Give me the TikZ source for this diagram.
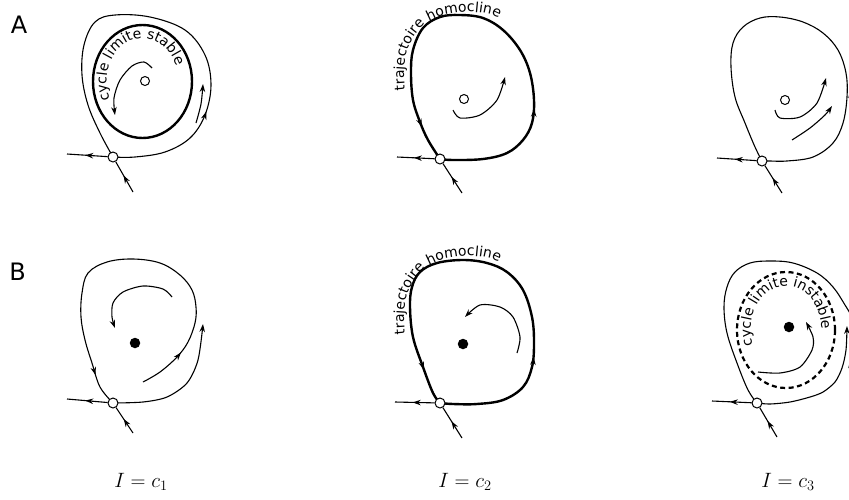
\documentclass[tikz,border=0pt]{standalone}
\usepackage{fontspec}
\newfontfamily\dejavu{DejaVu Sans}
\usetikzlibrary{arrows.meta,decorations.markings,decorations.text}
\newcommand\curvfont{\dejavu\fontsize{14}{14}\selectfont}
\begin{document}
\begin{tikzpicture}[x=1pt,y=-1pt,
  flow/.style={line width=1.1pt},
  homo/.style={line width=2.4pt},
  endtip/.style={-{Stealth[length=8pt,width=5.5pt]}},
  arrowat/.style={postaction={decorate,decoration={markings,mark=at position #1 with {\arrow{Stealth[length=8pt,width=5.5pt]}}}}},
  saddle/.style={circle,draw,fill=white,line width=1pt,inner sep=0pt,minimum size=10pt},
  focus/.style={circle,draw,fill=white,line width=1pt,inner sep=0pt,minimum size=9pt},
  dotnode/.style={circle,fill=black,inner sep=0pt,minimum size=10.5pt},
  panel/.style={font=\dejavu\fontsize{24}{24}\selectfont,anchor=base},
  cval/.style={font=\huge,anchor=base},
  curvtext/.style={decorate,decoration={text along path,text={|\curvfont|#1},text align=left}}
]
\useasboundingbox (0,0) rectangle (849,499);

% ---------- coordinates of saddles ----------
\coordinate (pA1) at (113,157);
\coordinate (pA2) at (440,159);
\coordinate (pA3) at (762,161);
\coordinate (pB1) at (113,403);
\coordinate (pB2) at (440,403);
\coordinate (pB3) at (757,403);

% ================= A1 =================
\draw[flow,arrowat=0.255] plot[smooth,tension=0.6] coordinates {(pA1) (135,157) (165,152) (190,138) (205,115) (211,85) (205,55) (185,30) (150,17) (115,15) (95,22) (84,45) (82,75) (88,105) (100,133) (pA1)};
\draw[homo] (142.5,81.5) ellipse [x radius=49.5, y radius=56.5];
\draw[flow,endtip] plot[smooth] coordinates {(196,123) (201,104) (203,84)};
\draw[flow,endtip] plot[smooth] coordinates {(152,68) (144,62) (132,66) (120,80) (114,98) (115,115)};
\path[curvtext={cycle limite stable}] plot[domain=0:1,samples=60,variable=\t] ({142.5+36*cos(205-185*\t)},{81.5-43*sin(205-185*\t)});
\node[focus] (fA1) at (145,81) {};

% ================= A2 =================
\draw[homo,arrowat=0.28,arrowat=0.915] plot[smooth,tension=0.6] coordinates {(pA2) (453,160) (483,159) (507,153) (523,140) (532,123) (534,100) (530,73) (520,50) (503,30) (483,18) (460,15) (440,17) (423,28) (413,50) (411,73) (413,100) (420,122) (428,140) (pA2)};
\draw[flow,endtip] plot[smooth] coordinates {(453,110) (460,118) (480,115) (497,100) (505,77)};
\path[curvtext={trajectoire homocline}] plot[smooth] coordinates {(405,90) (404,73) (406,54) (413,38) (425,24) (445,15) (470,12) (491,15) (508,24) (518,34)};
\node[focus] (fA2) at (464,99) {};

% ================= A3 =================
\draw[flow] plot[smooth,tension=0.6] coordinates {(pA3) (770,161) (787,161) (813,157) (833,143) (843,123) (847,97) (846,73) (838,50) (823,33) (803,22) (780,17) (760,18) (743,27) (733,43) (731,67) (735,97) (745,123) (755,147) (pA3)};
\draw[flow,endtip] plot[smooth] coordinates {(775,110) (780,118) (800,117) (817,103) (826,78)};
\draw[flow,endtip] plot[smooth] coordinates {(792,140) (810,128) (825,115) (832,106)};
\draw[flow,endtip] plot[smooth] coordinates {(858,130) (853,110) (850,90)};
\node[focus] (fA3) at (785,100) {};

% ================= B1 =================
\draw[flow,arrowat=0.13,arrowat=0.91] plot[smooth,tension=0.6] coordinates {(143,382) (160,372) (177,357) (188,342) (195,323) (196,307) (192,290) (180,275) (160,263) (133,259) (107,262) (88,273) (82,293) (81,317) (85,340) (92,363) (100,387) (pB1)};
\draw[flow,endtip] plot[smooth] coordinates {(pB1) (143,402) (167,397) (187,383) (198,360) (203,324)};
\draw[flow,endtip] plot[smooth] coordinates {(172,297) (163,289) (143,286) (123,292) (113,303) (112,317) (115,328)};
\node[dotnode] (dB1) at (135,343) {};

% ================= B2 =================
\draw[homo,arrowat=0.27,arrowat=0.916] plot[smooth,tension=0.6] coordinates {(pB2) (453,404) (477,404) (503,400) (523,387) (532,367) (534,343) (532,317) (523,290) (507,272) (487,263) (463,260) (437,263) (420,272) (412,287) (410,307) (413,337) (423,367) (433,393) (pB2)};
\draw[flow,endtip] plot[smooth] coordinates {(517,353) (520,337) (513,317) (500,307) (480,305) (465,317)};
\path[curvtext={trajectoire homocline}] plot[smooth] coordinates {(405,334) (404,317) (406,298) (413,282) (425,268) (445,259) (470,256) (491,259) (508,268) (518,278)};
\node[dotnode] (dB2) at (463,344) {};

% ================= B3 =================
\draw[flow] plot[smooth,tension=0.6] coordinates {(858,340) (852,318) (845,305) (833,287) (817,273) (793,263) (770,261) (750,263) (735,272) (727,287) (724,307) (727,333) (737,363) (748,390) (pB3)};
\draw[flow,endtip] plot[smooth] coordinates {(pB3) (770,404) (790,402) (810,397) (823,392) (835,382) (842,368) (846,350) (847,326)};
\draw[flow,endtip] plot[smooth] coordinates {(858,400) (853,380) (850,360)};
\draw[homo,line width=2.2pt,dash pattern=on 5pt off 3.5pt] (786,330) ellipse [x radius=49, y radius=58];
\draw[flow,endtip] plot[smooth] coordinates {(758,372) (780,373) (800,367) (812,350) (813,337) (806,322)};
\path[curvtext={cycle limite instable}] plot[domain=0:1,samples=60,variable=\t] ({786+35.5*cos(200-215*\t)},{330-44*sin(200-215*\t)});
\node[dotnode] (dB3) at (789,327) {};

% ---------- saddle nodes and their manifolds ----------
\foreach \p/\l/\b in {A1/{67,154}/{133,192}, A2/{397,157}/{462,193}, A3/{717,158}/{782,193}, B1/{67,399}/{133,433}, B2/{395,402}/{462,438}, B3/{712,401}/{777,437}}{
  \node[saddle] (s\p) at (p\p) {};
  \coordinate (l\p) at (\l);
  \coordinate (b\p) at (\b);
  \draw[flow,arrowat=0.55] (s\p) -- (l\p);
  \draw[flow,arrowat=0.55] (b\p) -- (s\p);
}

% ---------- labels ----------
\node[panel] (labA) at (19,33) {A};
\node[panel] (labB) at (17.5,280) {B};
\node[cval] (c1) at (141,487) {$I=c_1$};
\node[cval] (c2) at (465,487) {$I=c_2$};
\node[cval] (c3) at (788,487) {$I=c_3$};
\end{tikzpicture}
\end{document}
